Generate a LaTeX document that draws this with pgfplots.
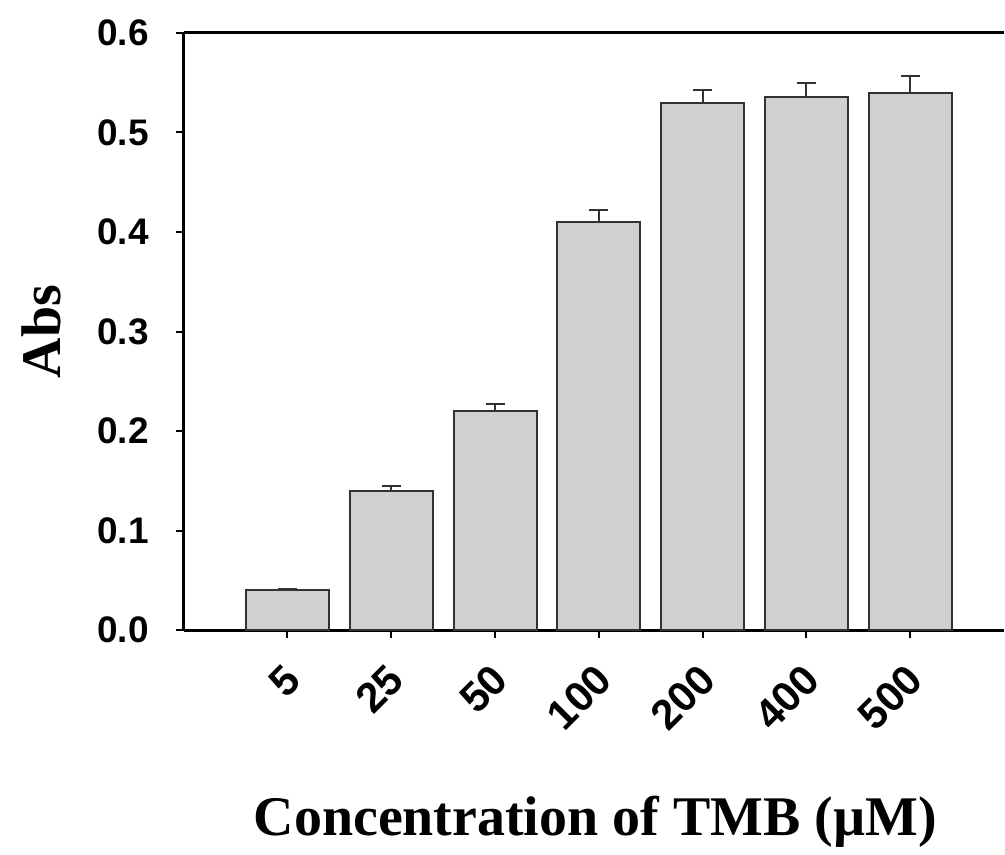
\documentclass[border=0pt]{standalone}
\usepackage{fontspec}
\setmainfont{Liberation Serif}
\newfontfamily\arialfont{Liberation Sans}
\usepackage{pgfplots}
\pgfplotsset{compat=1.18}
\definecolor{barfill}{RGB}{208,208,208}
\definecolor{baredge}{RGB}{50,50,50}
\begin{document}
\begin{tikzpicture}
\begin{axis}[
  scale only axis, width=410.5pt, height=299pt,
  xmin=-1, xmax=6.9, ymin=0, ymax=0.6,
  clip=false,
  axis x line*=bottom, axis y line*=left,
  x axis line style={-}, y axis line style={-},
  axis line style={line width=1.5pt, black},
  ytick={0,0.1,0.2,0.3,0.4,0.5,0.6},
  y tick label style={/pgf/number format/fixed, /pgf/number format/fixed zerofill, /pgf/number format/precision=1, /pgf/number format/assume math mode=true},
  yticklabel style={font=\arialfont\bfseries\fontsize{18.5}{20}\selectfont, anchor=east, xshift=-10pt},
  xtick={0,1,2,3,4,5,6},
  xticklabels={5,25,50,100,200,400,500},
  xticklabel style={font=\arialfont\bfseries\fontsize{21}{23}\selectfont, xshift=5pt, yshift=-14.8pt, rotate=45, anchor=east},
  tick align=outside, major tick length=4pt, tick style={black, line width=1pt},
  xlabel={\bfseries Concentration of TMB (µM)},
  ylabel={\bfseries Abs},
  every axis x label/.style={at={(rel axis cs:0.502,-0.3445)}, anchor=base, font=\fontsize{28}{30}\selectfont},
  every axis y label/.style={at={(rel axis cs:-0.1742,0.5)}, rotate=90, anchor=center, font=\fontsize{28}{30}\selectfont},
]
\addplot[ybar, bar width=0.8, fill=barfill, draw=baredge, line width=1pt,
  error bars/.cd, y dir=plus, y explicit,
  error bar style={line width=1pt, color=baredge},
  error mark options={rotate=90, mark size=4.75pt, line width=1pt, color=baredge}]
  coordinates {
  (0,0.040) +- (0,0.001)
  (1,0.140) +- (0,0.005)
  (2,0.220) +- (0,0.007)
  (3,0.410) +- (0,0.012)
  (4,0.530) +- (0,0.013)
  (5,0.536) +- (0,0.014)
  (6,0.540) +- (0,0.017)
  };
\draw[line width=1.5pt, black] (rel axis cs:0,1) -- (rel axis cs:1,1);
\path (rel axis cs:-0.2241,-0.3662) rectangle (rel axis cs:1,1.0552);
\end{axis}
\end{tikzpicture}
\end{document}
